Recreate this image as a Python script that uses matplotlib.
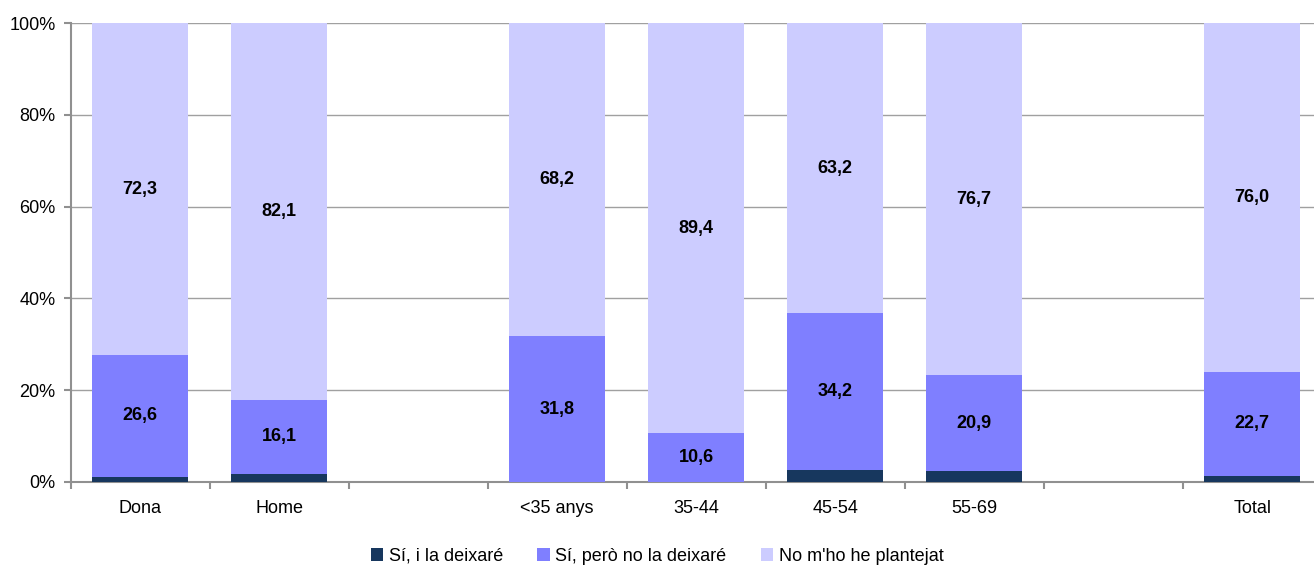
import matplotlib
matplotlib.use("Agg")
import matplotlib.pyplot as plt
import numpy as np

plt.rcParams['font.family'] = ['Liberation Sans', 'DejaVu Sans']

categories = ["Dona", "Home", "", "<35 anys", "35-44", "45-54", "55-69", "", "Total"]
si_deixare = [1.1, 1.8, None, 0.0, 0.0, 2.6, 2.4, None, 1.3]
si_no_deixare = [26.6, 16.1, None, 31.8, 10.6, 34.2, 20.9, None, 22.7]
no_plantejat = [72.3, 82.1, None, 68.2, 89.4, 63.2, 76.7, None, 76.0]
series_names = ["Sí, i la deixaré", "Sí, però no la deixaré", "No m'ho he plantejat"]
colors = ["#17375E", "#7F7FFF", "#CCCCFF"]
yticks = [0, 20, 40, 60, 80, 100]

fig = plt.figure(figsize=(13.14, 5.67), dpi=100)
ax = fig.add_axes([0.0538, 0.150, 0.952, 0.809])

idx = [i for i, v in enumerate(si_deixare) if v is not None]
x = np.array(idx, dtype=float)
s1 = np.array([si_deixare[i] for i in idx])
s2 = np.array([si_no_deixare[i] for i in idx])
s3 = np.array([no_plantejat[i] for i in idx])

w = 0.69
ax.bar(x, s1, w, color=colors[0], label=series_names[0], zorder=3)
ax.bar(x, s2, w, bottom=s1, color=colors[1], label=series_names[1], zorder=3)
ax.bar(x, s3, w, bottom=s1 + s2, color=colors[2], label=series_names[2], zorder=3)

for xi, a, b, c in zip(x, s1, s2, s3):
    ax.text(xi, a + b / 2, f"{b:.1f}".replace(".", ","), ha="center", va="center",
            fontsize=13, fontweight="bold", zorder=4)
    ax.text(xi, a + b + c / 2, f"{c:.1f}".replace(".", ","), ha="center", va="center",
            fontsize=13, fontweight="bold", zorder=4)

ax.set_xlim(-0.5, len(categories) - 0.5)
ax.set_ylim(0, 100)
ax.set_yticks(yticks)
ax.set_yticklabels([f"{t}%" for t in yticks], fontsize=13)
ax.yaxis.grid(True, color="#A0A0A0", linewidth=1, zorder=0)
ax.set_xticks(np.arange(len(categories)))
ax.set_xticklabels(categories, fontsize=13)
ax.tick_params(axis="x", length=0, pad=13)
ax.set_xticks(np.arange(len(categories) + 1) - 0.5, minor=True)
ax.tick_params(axis="x", which="minor", length=5, color="#909090", width=1.5)
ax.tick_params(axis="y", length=5, color="#909090", width=1.5, pad=6)
for s in ["top", "right"]:
    ax.spines[s].set_visible(False)
for s in ["left", "bottom"]:
    ax.spines[s].set_color("#909090")
    ax.spines[s].set_linewidth(1.5)

fig.legend(loc="lower center", bbox_to_anchor=(0.5, -0.025), ncol=3, frameon=False,
           fontsize=13, handlelength=0.7, handleheight=0.7, handletextpad=0.3,
           columnspacing=1.9)

fig.savefig("out.png", dpi=100)
